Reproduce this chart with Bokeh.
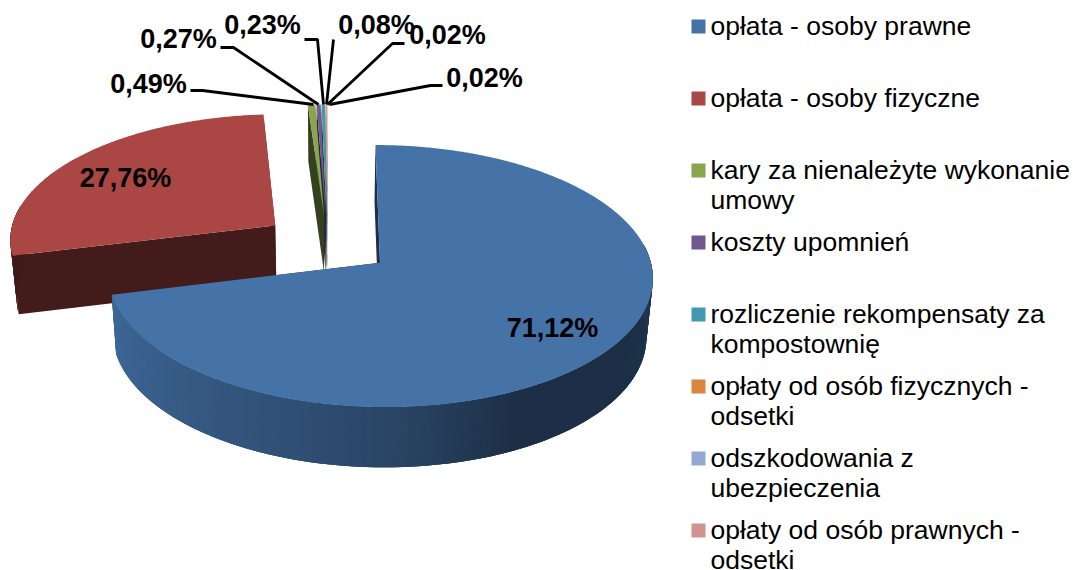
import math
from bokeh.plotting import figure
from bokeh.core.properties import value
from bokeh.embed import file_html
from bokeh.resources import INLINE

categories = [
    ["opłata - osoby prawne"],
    ["opłata - osoby fizyczne"],
    ["kary za nienależyte wykonanie", "umowy"],
    ["koszty upomnień"],
    ["rozliczenie rekompensaty za", "kompostownię"],
    ["opłaty od osób fizycznych -", "odsetki"],
    ["odszkodowania z", "ubezpieczenia"],
    ["opłaty od osób prawnych -", "odsetki"],
]
shares = [71.12, 27.76, 0.49, 0.27, 0.23, 0.08, 0.02, 0.02]
colors = ["#4572A7", "#AA4643", "#89A54E", "#71588F", "#4198AF", "#DB843D", "#93A9CF", "#D19392"]
explode = [0.232, 0.26, 0.25, 0.25, 0.25, 0.25, 0.25, 0.25]
nudge = [0, 0, -0.012, -0.012, -0.012, -0.012, -0.012, -0.012]
label_xy = [(552, 327), (125, 177), (148, 83), (178, 38), (262, 24), (376, 24), (447, 34), (484, 77)]
leaders = [None, None,
           [(190, 90), (202, 90), (313, 104)],
           [(220, 47), (233, 47), (318, 104)],
           [(304, 39), (317, 39), (323, 104)],
           [(333, 39), (326, 104)],
           [(404, 43), (392, 43), (327, 104)],
           [(442, 85), (430, 85), (329, 104)]]

# projection constants (px)
CX, CY, RX, RY, K, H = 330.0, 244.0, 267.0, 126.0, 0.1, 58.5
FONT = value("Liberation Sans")


def proj(X, Y, Z=0.0):
    s = 1.0 / (1.0 + K * Y)
    return CX + RX * X * s * (1 - 0.02 * Z), CY - RY * Y * s + Z * (H - 1.5 * Y)


def scale(hex_color, f):
    r, g, b = (int(hex_color[i:i + 2], 16) for i in (1, 3, 5))
    return "#%02x%02x%02x" % (int(r * f), int(g * f), int(b * f))


# wall shading against clockwise angle from the back of the pie
SHADE = [(0, .42), (90, .48), (120, .42), (153, .42), (175, .6), (197, .7), (256, .92), (360, .92)]


def shade(t):
    t = t % 360
    for (a, fa), (b, fb) in zip(SHADE, SHADE[1:]):
        if a <= t <= b:
            return fa + (fb - fa) * (t - a) / (b - a)
    return 0.5


p = figure(width=1073, height=570, x_range=(0, 1073), y_range=(570, 0),
           output_backend="svg", toolbar_location=None, min_border=0)
p.axis.visible = False
p.grid.visible = False
p.outline_line_color = None


def draw_slice(i, a0, a1):
    mid = math.radians((a0 + a1) / 2)
    ox, oy = explode[i] * math.sin(mid) + nudge[i], explode[i] * math.cos(mid)
    n = max(2, int((a1 - a0) * 2))
    ang = [a0 + (a1 - a0) * j / n for j in range(n + 1)]
    rim = [(ox + math.sin(math.radians(a)), oy + math.cos(math.radians(a))) for a in ang]
    col = colors[i]
    # radial walls
    for (ex, ey), f in ((rim[-1], .55), (rim[0], .39)):
        pts = [proj(ox, oy), proj(ex, ey), proj(ex, ey, 1), proj(ox, oy, 1)]
        c = scale(col, f if i != 0 else .42)
        p.patch([q[0] for q in pts], [q[1] for q in pts], fill_color=c, line_color=None)
    # outer wall: each strip overlaps the next so that no seams show
    xs, ys, cs = [], [], []
    for j in range(n):
        if math.cos(math.radians(ang[j])) > 0.15:
            continue
        (u0, v0), (u1, v1) = rim[j], rim[min(j + 3, n)]
        pts = [proj(u0, v0), proj(u1, v1), proj(u1, v1, 1), proj(u0, v0, 1)]
        xs.append([q[0] for q in pts])
        ys.append([q[1] for q in pts])
        cs.append(scale(col, shade(ang[j]) if i == 0 else .39))
    if xs:
        p.patches(xs[::-1], ys[::-1], fill_color=cs[::-1], line_color=None)
    # top face
    pts = [proj(ox, oy)] + [proj(u, v) for u, v in rim]
    p.patch([q[0] for q in pts], [q[1] for q in pts], fill_color=col, line_color=None)


total = sum(shares)
edges = [0.0]
for v in shares:
    edges.append(edges[-1] + v / total * 360)
for i in [1, 7, 6, 5, 4, 3, 2, 0]:
    draw_slice(i, edges[i], edges[i + 1])

for path in leaders:
    if path:
        p.line([q[0] for q in path], [q[1] for q in path], line_color="black", line_width=2.8)

for v, (x, y) in zip(shares, label_xy):
    p.text([x], [y], text=[f"{v:.2f}%".replace(".", ",")], text_font=FONT, text_font_style="bold",
           text_font_size=value("27px"), text_color="black", text_align="center", text_baseline="middle")

for i, (lines, col) in enumerate(zip(categories, colors)):
    ym = 26 + 72 * i
    p.rect([698], [ym], width=14, height=14, fill_color=col, line_color=None)
    for j, t in enumerate(lines):
        p.text([710], [ym - 0.5 + 29.5 * j], text=[t], text_font=FONT, text_font_size=value("26.5px"),
               text_color="black", text_align="left", text_baseline="middle")

open("out.html", "w").write(file_html(p, INLINE))
